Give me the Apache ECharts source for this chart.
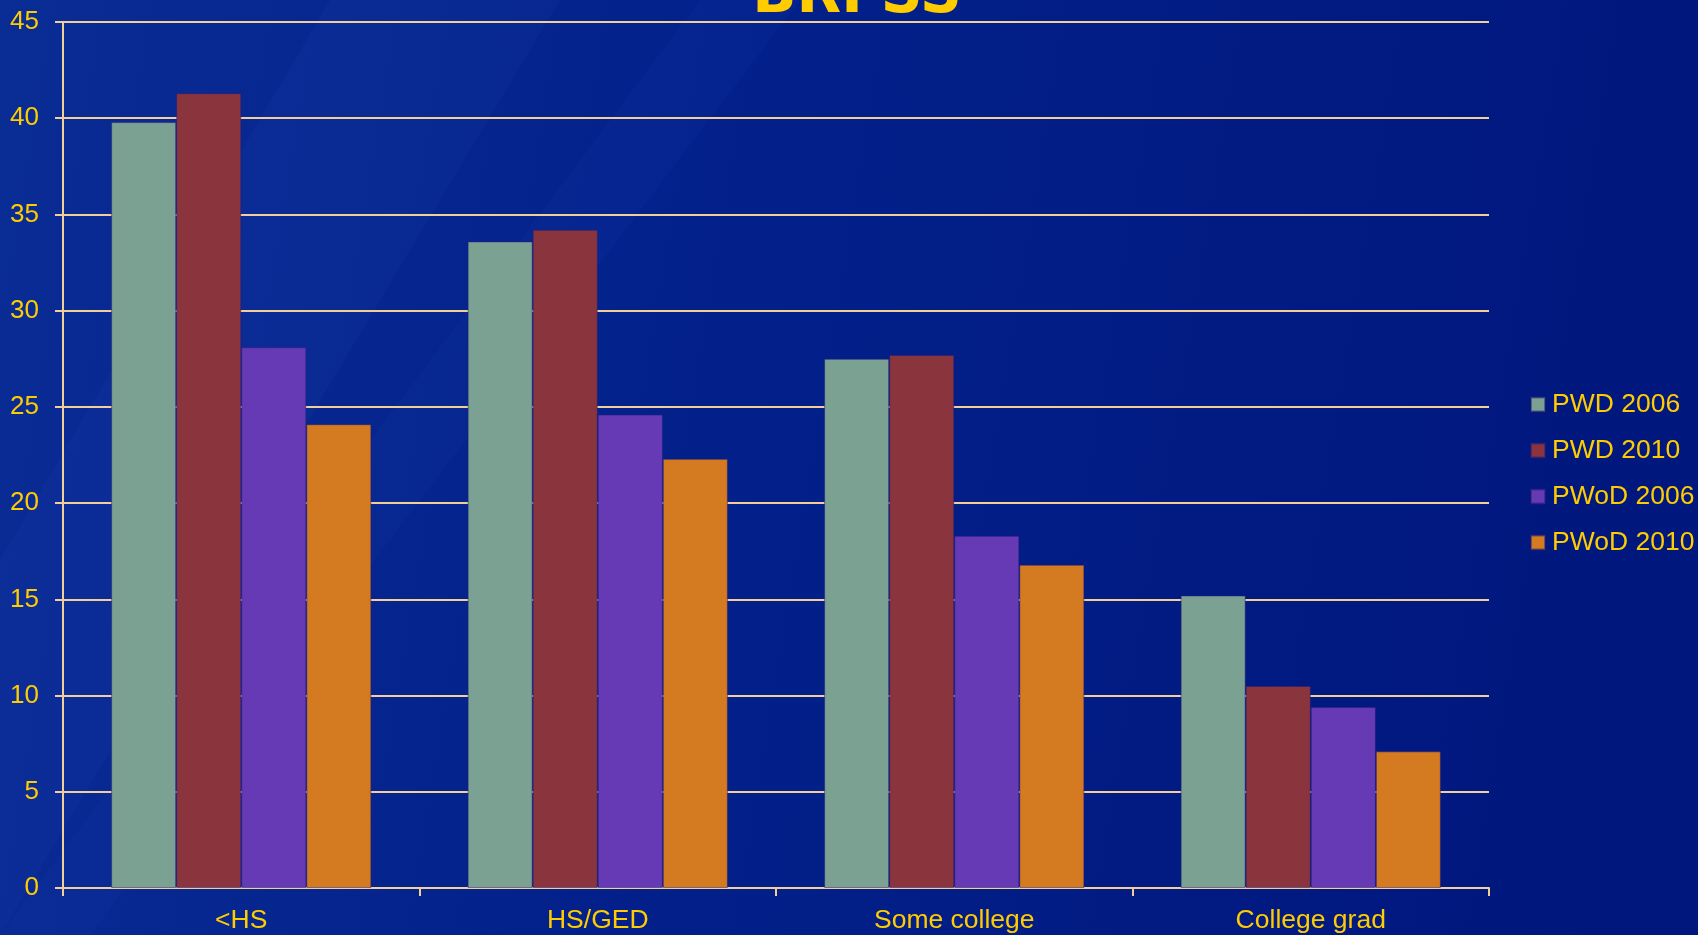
<!DOCTYPE html>
<html>
<head>
<meta charset="utf-8">
<script src="https://cdn.jsdelivr.net/npm/echarts@6/dist/echarts.min.js"></script>
<style>
html,body{margin:0;padding:0;background:#001880;}
#chart{width:1698px;height:935px;}
</style>
</head>
<body>
<div id="chart"></div>
<script>
const categories = ['<HS', 'HS/GED', 'Some college', 'College grad'];
const seriesNames = ['PWD 2006', 'PWD 2010', 'PWoD 2006', 'PWoD 2010'];
const pwd2006 = [39.8, 33.6, 27.5, 15.2];
const pwd2010 = [41.3, 34.2, 27.7, 10.5];
const pwod2006 = [28.1, 24.6, 18.3, 9.4];
const pwod2010 = [24.1, 22.3, 16.8, 7.1];
const seriesValues = [pwd2006, pwd2010, pwod2006, pwod2010];
const colors = ['#7BA193', '#8A353E', '#673AB5', '#D47A20'];
const titleText = 'BRFSS';

const yellow = '#FFCC00';
const lineColor = '#F2CF9A';

const chart = echarts.init(document.getElementById('chart'));
const option = {
  backgroundColor: {
    type: 'linear', x: 0, y: 0, x2: 1, y2: 0.3,
    colorStops: [
      {offset: 0, color: '#0A2C95'},
      {offset: 0.45, color: '#03208A'},
      {offset: 1, color: '#00177D'}
    ]
  },
  graphic: [
    {type: 'polygon', z: -10, silent: true,
     shape: {points: [[0, 935], [0, 560], [330, 0], [560, 0]]},
     style: {fill: 'rgba(40,80,190,0.10)'}},
    {type: 'polygon', z: -10, silent: true,
     shape: {points: [[0, 935], [90, 935], [800, 0], [700, 0]]},
     style: {fill: 'rgba(40,80,190,0.08)'}},
    {type: 'text', z: 10, silent: true, x: 857, y: 26,
     style: {text: titleText, x: 0, y: 0, align: 'center', verticalAlign: 'bottom',
       textAlign: 'center', textVerticalAlign: 'bottom',
       font: 'bold 58px "DejaVu Sans", sans-serif', fill: yellow}}
  ],
  color: colors,
  grid: {left: 63, right: 209, top: 22, bottom: 47, containLabel: false},
  legend: {
    orient: 'vertical',
    left: 1525, top: 386,
    itemWidth: 14, itemHeight: 14, itemGap: 19,
    icon: 'rect',
    textStyle: {color: yellow, fontSize: 26.5, fontFamily: '"Liberation Sans", Arial, sans-serif', padding: [0, 0, 0, 2]},
    data: seriesNames
  },
  xAxis: {
    type: 'category',
    data: categories,
    axisLine: {lineStyle: {color: lineColor, width: 2}},
    axisTick: {show: true, length: 8, lineStyle: {color: lineColor, width: 2}},
    axisLabel: {color: yellow, fontSize: 26.5, fontFamily: '"Liberation Sans", Arial, sans-serif', margin: 19}
  },
  yAxis: {
    type: 'value', min: 0, max: 45, interval: 5,
    axisLine: {show: true, lineStyle: {color: lineColor, width: 2}},
    axisTick: {show: true, length: 8, lineStyle: {color: lineColor, width: 2}},
    splitLine: {lineStyle: {color: lineColor, width: 2}},
    axisLabel: {color: yellow, fontSize: 26, fontFamily: '"Liberation Sans", Arial, sans-serif', margin: 24}
  },
  series: seriesNames.map((name, i) => ({
    name: name,
    type: 'bar',
    data: seriesValues[i],
    barGap: '0%',
    barCategoryGap: '27%',
    itemStyle: {color: colors[i], borderColor: 'rgba(40,30,120,0.5)', borderWidth: 1},
    animation: false
  }))
};
chart.setOption(option);
</script>
</body>
</html>
